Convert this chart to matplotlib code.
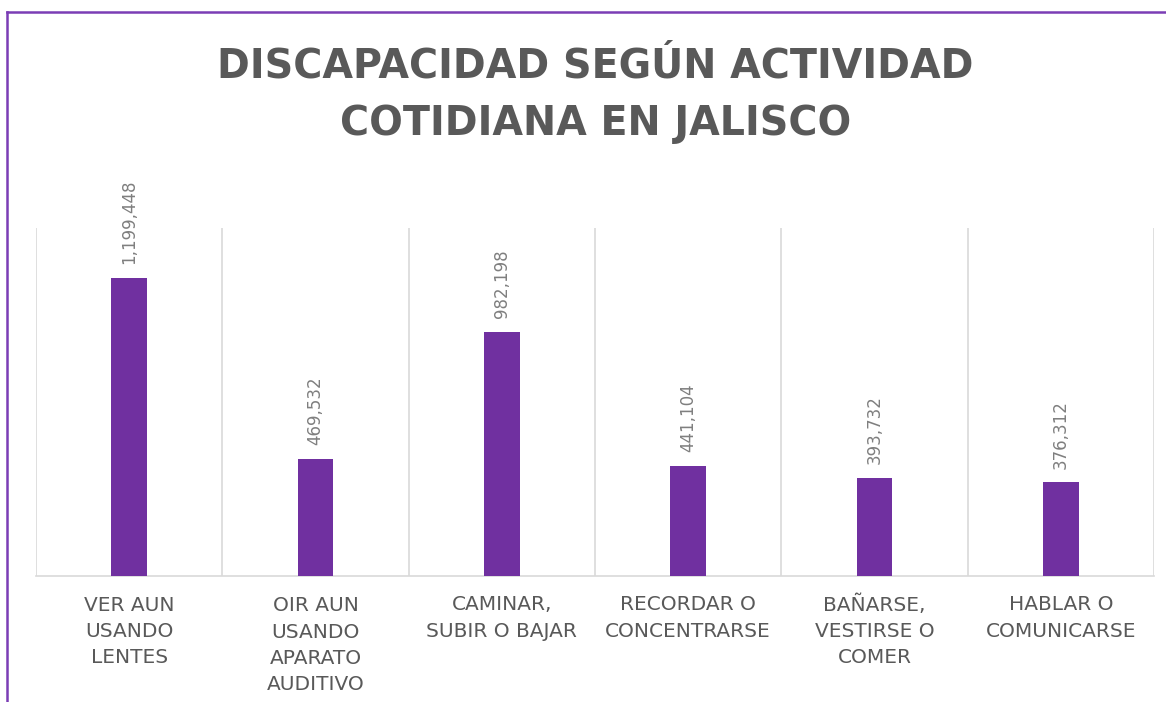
import matplotlib
matplotlib.use("Agg")
import matplotlib.pyplot as plt
from matplotlib.lines import Line2D

# ── data ──────────────────────────────────────────────────────────────────────
CATEGORIES = ["VER AUN\nUSANDO\nLENTES", "OIR AUN\nUSANDO\nAPARATO\nAUDITIVO",
              "CAMINAR,\nSUBIR O BAJAR", "RECORDAR O\nCONCENTRARSE",
              "BAÑARSE,\nVESTIRSE O\nCOMER", "HABLAR O\nCOMUNICARSE"]
VALUES = [1199448, 469532, 982198, 441104, 393732, 376312]
TITLE = "DISCAPACIDAD SEGÚN ACTIVIDAD\nCOTIDIANA EN JALISCO"

PURPLE, GRID, TXT, LBL = "#7030A0", "#D9D9D9", "#595959", "#7F7F7F"
LINE_STEP = 19.2   # pt between label lines

fig = plt.figure(figsize=(11.66, 7.02), dpi=100)
ax = fig.add_axes([36 / 1166, 1 - 576 / 702, (1154 - 36) / 1166, (576 - 228) / 702])

x = list(range(len(VALUES)))
bars = ax.bar(x, VALUES, width=0.19, color=PURPLE, zorder=3)
for b, v in zip(bars, VALUES):
    ax.annotate(f"{v:,}", (b.get_x() + b.get_width() / 2, v), xytext=(0, 10),
                textcoords="offset points", rotation=90, ha="center", va="bottom",
                fontsize=12, color=LBL)

ax.set_xlim(-0.5, len(VALUES) - 0.5)
ax.set_ylim(0, 1400000)
for i in range(len(VALUES) + 1):
    ax.axvline(i - 0.5, color=GRID, lw=1.2, zorder=1)
for s in ["top", "left", "right"]:
    ax.spines[s].set_visible(False)
ax.spines["bottom"].set_color(GRID)
ax.spines["bottom"].set_linewidth(1.2)
ax.set_yticks([])
ax.set_xticks(x)
ax.set_xticklabels([])
ax.tick_params(axis="x", length=0)
# category labels: baseline = last line, so shift by line count (keeps Ñ from pushing down)
for xi, cat in zip(x, CATEGORIES):
    n = cat.count("\n")
    ax.annotate(cat, (xi, 0), xycoords=("data", "axes fraction"),
                xytext=(0, -24.5 - n * LINE_STEP), textcoords="offset points",
                ha="center", va="baseline", fontsize=14.5, color=TXT,
                linespacing=1.48, annotation_clip=False)

fig.text(0.5 * (216 + 975) / 1166, 1 - 95 / 702, TITLE, ha="center", va="center",
         fontsize=28.5, fontweight="bold", color=TXT, linespacing=1.58)

# purple frame
fig.add_artist(Line2D([7 / 1166, 7 / 1166], [0, 1 - 12 / 702], color="#7B3DB5", lw=1.8))
fig.add_artist(Line2D([7 / 1166, 1], [1 - 12 / 702, 1 - 12 / 702], color="#7B3DB5", lw=1.8))

plt.savefig("out.png", dpi=100, facecolor="white")
